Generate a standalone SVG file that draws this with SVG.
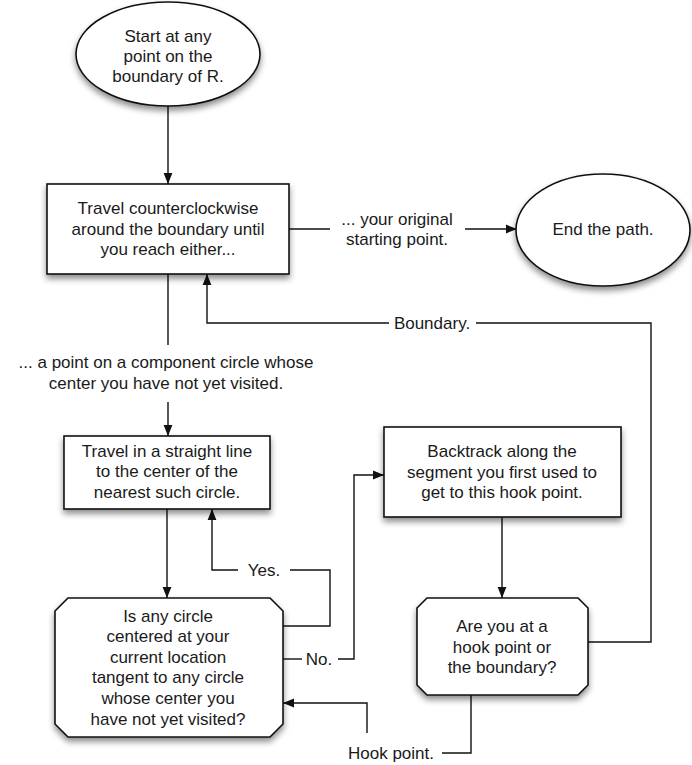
<svg xmlns="http://www.w3.org/2000/svg" width="692" height="765" viewBox="0 0 692 765">
<style>
.shape{fill:#fff;stroke:#111;stroke-width:1.6;filter:url(#sh)}
.t{font-family:"Liberation Sans",Arial,sans-serif;font-size:17px;fill:#1a1a1a;text-anchor:middle}
.c{fill:none;stroke:#111;stroke-width:1.4}
.a{marker-end:url(#ah)}
</style>
<defs>
<filter id="sh" x="-20%" y="-20%" width="140%" height="150%">
<feDropShadow dx="0" dy="4" stdDeviation="3" flood-color="#000" flood-opacity="0.45"/>
</filter>
<marker id="ah" viewBox="0 0 10 10" refX="10" refY="5" markerWidth="11" markerHeight="11" markerUnits="userSpaceOnUse" orient="auto">
<path d="M0,1 L10,5 L0,9 Z" fill="#111"/>
</marker>
</defs>

<g id="connectors">
<path class="c a" d="M168,106 V184"/>
<path class="c" d="M289,229 H330"/>
<path class="c a" d="M465,229 H517"/>
<path class="c" d="M168,274 V345"/>
<path class="c a" d="M168,402 V436"/>
<path class="c a" d="M167,509 V598"/>
<path class="c a" d="M502,517 V598"/>
<path class="c" d="M588,642 H651 V323 H476"/>
<path class="c a" d="M389,323 H207 V274"/>
<path class="c" d="M283,626 H330 V570 H290"/>
<path class="c a" d="M238,570 H212 V509"/>
<path class="c" d="M283,659 H302"/>
<path class="c a" d="M338,659 H354 V475 H384"/>
<path class="c" d="M471,695 V753 H442"/>
<path class="c a" d="M367,733 V703 H283"/>
<text class="t" x="397" y="225">... your original</text>
<text class="t" x="397" y="245">starting point.</text>
<text class="t" x="166" y="368">... a point on a component circle whose</text>
<text class="t" x="166" y="389">center you have not yet visited.</text>
<text class="t" x="432" y="329">Boundary.</text>
<text class="t" x="264" y="576">Yes.</text>
<text class="t" x="319" y="665">No.</text>
<text class="t" x="391" y="759">Hook point.</text>
</g>

<g id="start">
<ellipse class="shape" cx="168" cy="54" rx="92" ry="52"/>
<text class="t" x="168" y="42">Start at any</text>
<text class="t" x="168" y="62">point on the</text>
<text class="t" x="168" y="82">boundary of R.</text>
</g>

<g id="travel-boundary">
<rect class="shape" x="47" y="184" width="242" height="90"/>
<text class="t" x="168" y="214">Travel counterclockwise</text>
<text class="t" x="168" y="235">around the boundary until</text>
<text class="t" x="168" y="255">you reach either...</text>
</g>

<g id="end">
<ellipse class="shape" cx="603" cy="230" rx="87" ry="56"/>
<text class="t" x="603" y="235">End the path.</text>
</g>

<g id="travel-line">
<rect class="shape" x="64" y="436" width="206" height="73"/>
<text class="t" x="167" y="457">Travel in a straight line</text>
<text class="t" x="167" y="477">to the center of the</text>
<text class="t" x="167" y="498">nearest such circle.</text>
</g>

<g id="backtrack">
<rect class="shape" x="384" y="427" width="237" height="90"/>
<text class="t" x="502" y="457">Backtrack along the</text>
<text class="t" x="502" y="478">segment you first used to</text>
<text class="t" x="502" y="498">get to this hook point.</text>
</g>

<g id="tangent-question">
<path class="shape" d="M68,598 H270 L283,611 V724 L270,737 H68 L55,724 V611 Z"/>
<text class="t" x="168" y="622">Is any circle</text>
<text class="t" x="168" y="642">centered at your</text>
<text class="t" x="168" y="663">current location</text>
<text class="t" x="168" y="683">tangent to any circle</text>
<text class="t" x="168" y="704">whose center you</text>
<text class="t" x="168" y="725">have not yet visited?</text>
</g>

<g id="hook-question">
<path class="shape" d="M427,598 H578 L588,608 V685 L578,695 H427 L417,685 V608 Z"/>
<text class="t" x="502" y="632">Are you at a</text>
<text class="t" x="502" y="653">hook point or</text>
<text class="t" x="502" y="673">the boundary?</text>
</g>
</svg>
